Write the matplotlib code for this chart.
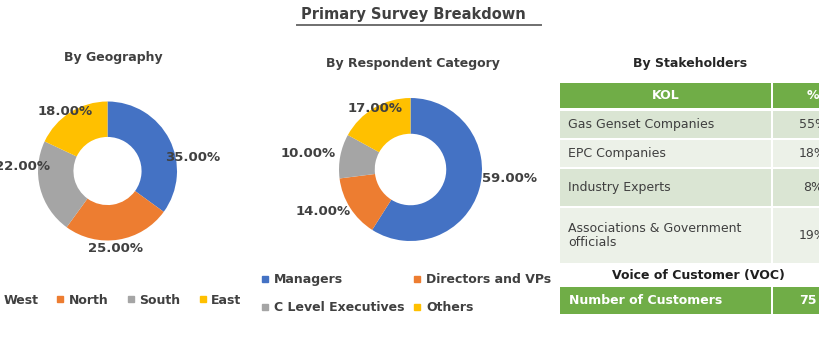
import matplotlib
import matplotlib.pyplot as plt
from matplotlib.lines import Line2D
from matplotlib.patches import Rectangle

matplotlib.use('Agg')

# data
geo_labels = ['West', 'North', 'South', 'East']
geo_values = [35, 25, 22, 18]

resp_labels = ['Managers', 'Directors and VPs', 'C Level Executives', 'Others']
resp_values = [59, 14, 10, 17]

kol_labels = ['Gas Genset Companies', 'EPC Companies', 'Industry Experts',
              'Associations & Government\nofficials']
kol_shares = [55, 18, 8, 19]

voc_label = 'Number of Customers'
voc_count = 75

colors = ['#4472C4', '#ED7D31', '#A5A5A5', '#FFC000']
green = '#70AD47'
txt = '#404040'

W, H = 820, 350
plt.rcParams['font.family'] = ['DejaVu Sans']

fig = plt.figure(figsize=(W / 100, H / 100), dpi=100)


def px_axes(x0, y0, w, h):
    # pixel box (top-left origin) -> figure fraction axes
    return fig.add_axes([x0 / W, 1 - (y0 + h) / H, w / W, h / H])


def donut(cx, cy, r, values, hole, label_pos):
    ax = px_axes(cx - r, cy - r, 2 * r, 2 * r)
    ax.pie(values, colors=colors, startangle=90, counterclock=False, radius=1,
           wedgeprops=dict(width=1 - hole, linewidth=0))
    ax.set_xlim(-1, 1)
    ax.set_ylim(-1, 1)
    ax.set_aspect('equal')
    ax.axis('off')
    for v, (lx, ly) in zip(values, label_pos):
        ax.text(lx, ly, f'{v:.2f}%', ha='center', va='center', fontsize=9.5,
                fontweight='bold', color=txt, clip_on=False)
    return ax


# title
fig.text(413 / W, 1 - 15 / H, 'Primary Survey Breakdown', ha='center', va='center',
         fontsize=10.5, fontweight='bold', color=txt)
fig.add_artist(Line2D([297 / W, 541 / W], [1 - 25 / H, 1 - 25 / H], color='#6f6f6f', lw=1.4))

# donut 1
fig.text(113 / W, 1 - 57 / H, 'By Geography', ha='center', va='center',
         fontsize=9, fontweight='bold', color=txt)
donut(107.5, 171, 69.5, geo_values, 0.49,
      [(1.23, 0.20), (0.11, -1.11), (-1.23, 0.06), (-0.61, 0.85)])

h1 = [Line2D([], [], marker='s', ls='', ms=4.5, color=c) for c in colors]
fig.legend(h1, geo_labels, loc='center', bbox_to_anchor=(116 / W, 1 - 300 / H), ncol=4,
           frameon=False, handlelength=0.7, handletextpad=0.35, columnspacing=1.4,
           borderpad=0, prop=dict(size=9, weight='bold'), labelcolor=txt)

# donut 2
fig.text(413 / W, 1 - 64 / H, 'By Respondent Category', ha='center', va='center',
         fontsize=9, fontweight='bold', color=txt)
donut(410.5, 169.5, 71.5, resp_values, 0.5,
      [(1.39, -0.12), (-1.22, -0.59), (-1.43, 0.23), (-0.50, 0.86)])

order = [0, 2, 1, 3]
h2 = [Line2D([], [], marker='s', ls='', ms=4.5, color=colors[i]) for i in order]
fig.legend(h2, [resp_labels[i] for i in order], loc='center',
           bbox_to_anchor=(406 / W, 1 - 293.5 / H), ncol=2, frameon=False,
           handlelength=0.7, handletextpad=0.35, columnspacing=0.7, labelspacing=1.2,
           borderpad=0, prop=dict(size=9, weight='bold'), labelcolor=txt)

# stakeholder table
tb = fig.add_axes([0, 0, 1, 1], zorder=-1)
tb.set_xlim(0, W)
tb.set_ylim(H, 0)
tb.axis('off')

x0, xdiv, x1 = 560, 772, 854
fig.text(690 / W, 1 - 64 / H, 'By Stakeholders', ha='center', va='center',
         fontsize=9, fontweight='bold', color='#262626')

tb.add_patch(Rectangle((x0, 83), xdiv - x0 - 1, 25, color=green, lw=0))
tb.add_patch(Rectangle((xdiv + 1, 83), x1 - xdiv, 25, color=green, lw=0))
tb.text((x0 + xdiv) / 2, 95.5, 'KOL', ha='center', va='center', fontsize=9,
        fontweight='bold', color='white')
tb.text(813, 95.5, '%', ha='center', va='center', fontsize=9, fontweight='bold', color='white')

row_tops = [111, 140, 169, 208]
row_bots = [138, 167, 206, 263]
shades = ['#DAE5D3', '#ECF1E8']
for i, (lab, v) in enumerate(zip(kol_labels, kol_shares)):
    t, b = row_tops[i], row_bots[i]
    c = shades[i % 2]
    tb.add_patch(Rectangle((x0, t), xdiv - x0 - 1, b - t, color=c, lw=0))
    tb.add_patch(Rectangle((xdiv + 1, t), x1 - xdiv, b - t, color=c, lw=0))
    tb.text(568, (t + b) / 2, lab, ha='left', va='center', fontsize=9, color='#3F3F3F',
            linespacing=1.1)
    tb.text(813, (t + b) / 2, f'{v}%', ha='center', va='center', fontsize=9, color='#3F3F3F')

tb.text(698, 275, 'Voice of Customer (VOC)', ha='center', va='center', fontsize=9,
        fontweight='bold', color='#1F1F1F')
tb.add_patch(Rectangle((x0, 287), xdiv - x0 - 1, 27, color=green, lw=0))
tb.add_patch(Rectangle((xdiv + 1, 287), x1 - xdiv, 27, color=green, lw=0))
tb.text(569, 300.5, voc_label, ha='left', va='center', fontsize=9, fontweight='bold',
        color='white')
tb.text(808, 300.5, str(voc_count), ha='center', va='center', fontsize=9,
        fontweight='bold', color='white')

fig.savefig('out.png', dpi=100)
plt.close()
